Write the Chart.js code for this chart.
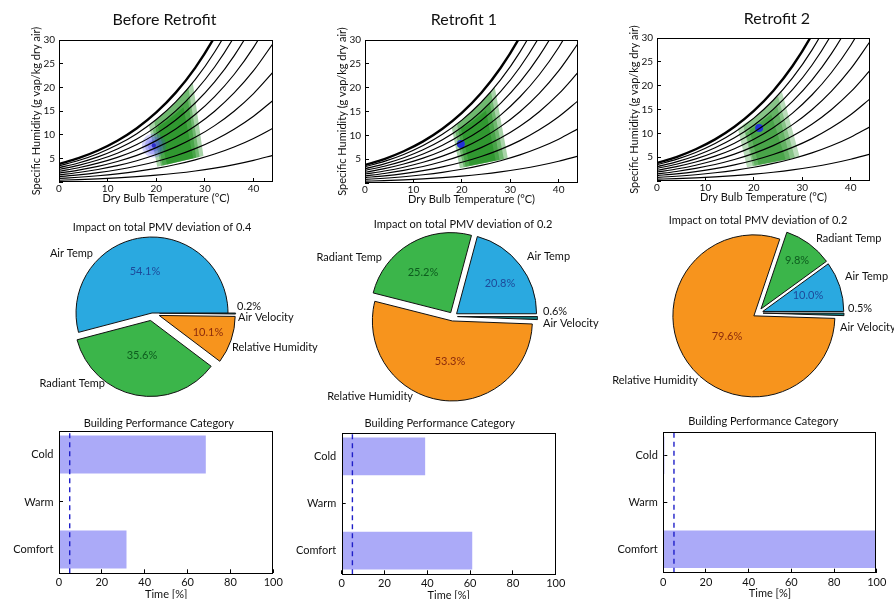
<!DOCTYPE html>
<html>
<head>
<meta charset="utf-8">
<title>Retrofit comfort comparison</title>
<script src="https://cdn.jsdelivr.net/npm/chart.js@4.4.1/dist/chart.umd.min.js"></script>
<style>
  html, body { margin: 0; padding: 0; background: #fff; }
  body { width: 894px; height: 599px; position: relative; overflow: hidden; }
  canvas { position: absolute; }
</style>
</head>
<body>
<canvas id="psy0"></canvas><canvas id="psy1"></canvas><canvas id="psy2"></canvas>
<canvas id="pie0"></canvas><canvas id="pie1"></canvas><canvas id="pie2"></canvas>
<canvas id="bar0"></canvas><canvas id="bar1"></canvas><canvas id="bar2"></canvas>
<script>
const FONT = 'Lato, "Open Sans", sans-serif';
Chart.defaults.font.family = FONT;
Chart.defaults.color = '#111';

// ---------- psychrometric chart ----------
const dryBulb = [0, 4, 8, 12, 16, 20, 24, 28, 32, 36, 40, 44];
// specific humidity (g vap / kg dry air) along each relative-humidity line
const rh10  = [0.38, 0.50, 0.66, 0.86, 1.12, 1.44, 1.84, 2.33, 2.94, 3.67, 4.57, 5.64];
const rh20  = [0.75, 1.00, 1.32, 1.73, 2.24, 2.89, 3.69, 4.68, 5.90, 7.39, 9.20, 11.38];
const rh30  = [1.13, 1.50, 1.98, 2.59, 3.37, 4.34, 5.55, 7.05, 8.89, 11.15, 13.90, 17.23];
const rh40  = [1.50, 2.00, 2.65, 3.46, 4.50, 5.80, 7.42, 9.43, 11.91, 14.96, 18.68, 23.19];
const rh50  = [1.88, 2.51, 3.31, 4.34, 5.63, 7.26, 9.30, 11.83, 14.96, 18.81, 23.52, 29.26];
const rh60  = [2.26, 3.01, 3.98, 5.21, 6.77, 8.74, 11.19, 14.25, 18.04, 22.71, 28.44, 35.45];
const rh70  = [2.64, 3.52, 4.64, 6.09, 7.91, 10.22, 13.10, 16.69, 21.15, 26.66, 33.44, 41.75];
const rh80  = [3.02, 4.02, 5.31, 6.97, 9.06, 11.70, 15.02, 19.15, 24.29, 30.66, 38.51, 48.18];
const rh90  = [3.40, 4.53, 5.98, 7.85, 10.21, 13.20, 16.94, 21.63, 27.46, 34.70, 43.67, 54.73];
const rh100 = [3.78, 5.03, 6.66, 8.73, 11.37, 14.70, 18.88, 24.12, 30.66, 38.80, 48.90, 61.42];
const rhLines = [rh10, rh20, rh30, rh40, rh50, rh60, rh70, rh80, rh90, rh100];

// comfort-zone outlines, vertices as [dry bulb °C, specific humidity g/kg]
const zonesBefore = [
  [[20.2, 3.2], [18.5, 12.0], [20, 13.2], [22, 14.9], [24, 16.9], [26, 19.2], [27.5, 21.0], [29.7, 5.5]],
  [[21.3, 3.5], [19.6, 12.8], [22, 14.9], [24, 16.9], [26, 19.2], [26.6, 19.9], [28.9, 5.3]],
  [[22.2, 3.7], [20.3, 11.9], [22, 13.3], [24, 15.0], [26, 17.0], [26.5, 17.6], [28.2, 5.1]],
  [[21.0, 3.4], [19.3, 11.0], [22, 12.8], [24, 14.4], [25.6, 15.8], [27.6, 5.0]]
];
const zonesRetrofit1 = [
  [[19.6, 3.1], [17.9, 11.7], [20, 13.2], [22, 14.9], [24, 16.9], [26, 19.2], [26.8, 20.1], [29.5, 5.2]],
  [[20.8, 3.4], [19.0, 12.4], [22, 14.9], [24, 16.9], [26, 19.2], [28.7, 5.0]],
  [[21.6, 3.6], [19.8, 11.5], [22, 13.3], [24, 15.0], [25.8, 16.8], [27.8, 4.8]],
  [[20.4, 3.3], [18.7, 10.6], [22, 12.8], [24, 14.4], [25.0, 15.2], [27.0, 4.7]]
];
const zonesRetrofit2 = [
  [[18.6, 2.9], [16.7, 11.0], [18, 12.0], [20, 13.2], [22, 14.9], [24, 16.9], [25.8, 18.7], [29.5, 5.0]],
  [[19.8, 3.1], [17.8, 11.7], [20, 13.2], [22, 14.9], [24, 16.9], [25.0, 17.8], [28.5, 4.8]],
  [[21.0, 3.4], [19.0, 11.0], [22, 13.3], [24, 15.0], [24.8, 15.8], [27.5, 4.6]],
  [[20.2, 3.2], [18.3, 10.0], [22, 12.8], [23.6, 14.0], [26.6, 4.5]]
];

// indoor operating point of each case [°C, g/kg]
const stateBefore = [19.5, 7.7];
const stateRetrofit1 = [19.8, 8.2];
const stateRetrofit2 = [21.1, 11.1];

// ---------- PMV deviation breakdown ----------
const factors = ['Air Temp', 'Radiant Temp', 'Relative Humidity', 'Air Velocity'];
const shareBefore = [54.1, 35.6, 10.1, 0.2];
const shareRetrofit1 = [20.8, 25.2, 53.3, 0.6];
const shareRetrofit2 = [10.0, 9.8, 79.6, 0.5];
const pmvDeviation = [0.4, 0.2, 0.2];

// ---------- building performance ----------
const categories = ['Cold', 'Warm', 'Comfort'];
const timeBefore = [68.5, 0, 31.5];
const timeRetrofit1 = [39, 0, 61];
const timeRetrofit2 = [0.5, 0, 99.5];
const timeLimit = 5;

const caseTitles = ['Before Retrofit', 'Retrofit 1', 'Retrofit 2'];

// ---------- styling ----------
const factorColors = ['#2aa9e0', '#3bb54a', '#f7941d', '#167d7f'];
const pctColors = ['#1d4a9a', '#0d5c1e', '#8c2c0c', '#111'];
const TICK_IN = -4; // tick marks point into the plot

// ---------- helpers ----------
function place(id, box) {
  const c = document.getElementById(id);
  c.width = box.w; c.height = box.h;
  c.style.left = box.x + 'px'; c.style.top = box.y + 'px';
  return c;
}

function textPlugin(items, aroundPie) {
  return {
    id: 'texts',
    afterDraw(chart) {
      const ctx = chart.ctx;
      let ox = 0, oy = 0;
      if (aroundPie) { const a = chart.getDatasetMeta(0).data[0]; ox = a.x; oy = a.y; }
      ctx.save();
      ctx.textBaseline = 'middle';
      items.forEach(t => {
        ctx.font = t.size + 'px ' + FONT;
        ctx.fillStyle = t.color || '#111';
        ctx.textAlign = t.align || 'center';
        ctx.fillText(t.text, ox + t.x, oy + t.y);
      });
      ctx.restore();
    }
  };
}

const framePlugin = {
  id: 'frame',
  afterDatasetsDraw(chart) {
    const { ctx, chartArea: a } = chart;
    ctx.save();
    ctx.strokeStyle = '#000';
    ctx.lineWidth = 1;
    ctx.strokeRect(Math.round(a.left) + 0.5, Math.round(a.top) + 0.5,
                   Math.round(a.right - a.left) - 1, Math.round(a.bottom - a.top) - 1);
    ctx.restore();
  }
};

const inwardGrid = { display: true, drawOnChartArea: false, drawTicks: true, tickLength: TICK_IN, color: '#000', lineWidth: 1 };

function psychChart(id, box, area, title, titleAt, zones, zoneAlpha, marks) {
  const c = place(id, box);
  const yW = area.l - box.x;
  const xH = box.y + box.h - area.b;
  const curves = rhLines.map((arr, k) => ({
    type: 'line', order: 0,
    data: dryBulb.map((t, i) => ({ x: t, y: arr[i] })),
    borderColor: '#000',
    borderWidth: k === rhLines.length - 1 ? 2.4 : 1.15,
    pointRadius: 0, cubicInterpolationMode: 'monotone', fill: false
  }));
  const zoneSets = zones.map(z => ({
    type: 'line', order: 2,
    data: z.map(p => ({ x: p[0], y: p[1] })),
    borderColor: 'rgba(0,0,0,0)', borderWidth: 0, pointRadius: 0, tension: 0,
    fill: 'shape', backgroundColor: 'rgba(0,130,0,' + zoneAlpha + ')'
  }));
  const markSets = marks.map(m => ({
    type: 'scatter', order: 1,
    data: [{ x: m.at[0], y: m.at[1] }],
    pointRadius: m.r, backgroundColor: m.color, borderWidth: 0
  }));
  new Chart(c, {
    type: 'scatter',
    data: { datasets: curves.concat(markSets, zoneSets) },
    options: {
      responsive: false, animation: false, events: [],
      layout: { padding: { left: 0, top: area.t - box.y, right: box.x + box.w - area.r, bottom: 0 } },
      plugins: { legend: { display: false }, tooltip: { enabled: false } },
      scales: {
        x: {
          type: 'linear', offset: false, min: 0, max: 44,
          ticks: { stepSize: 10, includeBounds: false, font: { size: 10 }, color: '#111', padding: 1 - TICK_IN, maxRotation: 0 },
          grid: inwardGrid, border: { display: false },
          title: { display: true, text: 'Dry Bulb Temperature (°C)', font: { size: 11 }, color: '#111',
                   padding: { top: 0, bottom: xH - 16.5 - 6.6 } },
          afterFit(s) { s.height = xH; }
        },
        y: {
          type: 'linear', offset: false, min: 0, max: 30,
          ticks: { stepSize: 5, font: { size: 10 }, color: '#111', padding: 4 - TICK_IN,
                   callback: v => (v === 0 ? '' : v) },
          grid: inwardGrid, border: { display: false },
          title: { display: true, text: 'Specific Humidity (g vap/kg dry air)', font: { size: 11 }, color: '#111',
                   padding: { top: yW - 23 - 6.6, bottom: 0 } },
          afterFit(s) { s.width = yW; }
        }
      }
    },
    plugins: [framePlugin, textPlugin([
      { text: title, x: titleAt[0] - box.x, y: titleAt[1] - box.y, size: 16 }
    ])]
  });
}

function pieChart(id, box, center, radius, shares, explode, spots, dev) {
  const c = place(id, box);
  const cx = center[0] - box.x, cy = center[1] - box.y;
  const dx = 2 * cx - box.w, dy = 2 * cy - box.h;
  // Chart.js sweeps clockwise; reversing the slices gives a counter-clockwise pie from three o'clock
  const idx = factors.map((_, i) => factors.length - 1 - i);
  const items = [{ text: 'Impact on total PMV deviation of ' + dev, x: spots.title[0], y: spots.title[1], size: 11 }];
  factors.forEach((f, i) => {
    const n = spots.names[i], p = spots.pcts[i];
    items.push({ text: f, x: n[0], y: n[1], align: n[2], size: 11 });
    items.push({ text: shares[i].toFixed(1) + '%', x: p[0], y: p[1], align: p[2] || 'center', size: 11, color: pctColors[i] });
  });
  const explodePlugin = {
    id: 'explode',
    beforeDatasetDraw(chart, args) {
      const ctx = chart.ctx;
      args.meta.data.forEach((arc, j) => {
        const d = explode[idx[j]];
        const mid = (arc.startAngle + arc.endAngle) / 2;
        ctx.save();
        ctx.translate(Math.cos(mid) * d, Math.sin(mid) * d);
        arc.draw(ctx);
        ctx.restore();
      });
      return false;
    }
  };
  new Chart(c, {
    type: 'pie',
    data: {
      labels: idx.map(i => factors[i]),
      datasets: [{
        data: idx.map(i => shares[i]),
        backgroundColor: idx.map(i => factorColors[i]),
        borderColor: '#111', borderWidth: 1
      }]
    },
    options: {
      responsive: false, animation: false, events: [],
      rotation: 90, radius: radius,
      layout: { padding: { left: Math.max(dx, 0), right: Math.max(-dx, 0), top: Math.max(dy, 0), bottom: Math.max(-dy, 0) } },
      plugins: { legend: { display: false }, tooltip: { enabled: false } }
    },
    plugins: [explodePlugin, textPlugin(items, true)]
  });
}

function barChart(id, box, area, titleAt, values) {
  const c = place(id, box);
  const yW = area.l - box.x;
  const xH = box.y + box.h - area.b;
  new Chart(c, {
    type: 'bar',
    data: {
      labels: categories,
      datasets: [
        { type: 'line', xAxisID: 'x', yAxisID: 'yv', order: 0,
          data: [{ x: timeLimit, y: 0 }, { x: timeLimit, y: 1 }],
          borderColor: '#1f1fc8', borderWidth: 1.4, borderDash: [5, 4], pointRadius: 0, fill: false },
        { type: 'bar', indexAxis: 'y', xAxisID: 'x', yAxisID: 'y', order: 1,
          data: values, backgroundColor: '#abaaf8', borderWidth: 0,
          barPercentage: 0.8, categoryPercentage: 1 }
      ]
    },
    options: {
      responsive: false, animation: false, events: [],
      layout: { padding: { left: 0, top: area.t - box.y, right: box.x + box.w - area.r, bottom: 0 } },
      plugins: { legend: { display: false }, tooltip: { enabled: false } },
      scales: {
        x: {
          type: 'linear', position: 'bottom', offset: false, min: 0, max: 100,
          ticks: { stepSize: 20, font: { size: 11 }, color: '#111', padding: 2.8 - TICK_IN, maxRotation: 0 },
          grid: Object.assign({}, inwardGrid, { offset: false }), border: { display: false },
          title: { display: true, text: 'Time [%]', font: { size: 11 }, color: '#111',
                   padding: { top: 0, bottom: xH - 20.7 - 6.6 } },
          afterFit(s) { s.height = xH; }
        },
        y: {
          type: 'category', position: 'left', offset: true,
          ticks: { font: { size: 11 }, color: '#111', padding: 5.5 - TICK_IN },
          grid: Object.assign({}, inwardGrid, { offset: false }), border: { display: false },
          afterFit(s) { s.width = yW; }
        },
        yv: { type: 'linear', min: 0, max: 1, offset: false, display: false }
      }
    },
    plugins: [framePlugin, textPlugin([
      { text: 'Building Performance Category', x: titleAt[0] - box.x, y: titleAt[1] - box.y, size: 11 }
    ])]
  });
}

// ---------- row 1: psychrometric charts ----------
psychChart('psy0', { x: 0, y: 0, w: 300, h: 208 }, { l: 59, t: 40, r: 273, b: 182 },
  caseTitles[0], [164.5, 20], zonesBefore, 0.34, [
    { at: stateBefore, r: 12, color: 'rgba(60,60,235,0.22)' },
    { at: stateBefore, r: 9, color: 'rgba(60,60,235,0.25)' },
    { at: stateBefore, r: 6, color: 'rgba(60,60,235,0.3)' },
    { at: stateBefore, r: 2.2, color: '#1a1a9a' }
  ]);
psychChart('psy1', { x: 300, y: 0, w: 300, h: 208 }, { l: 365, t: 40, r: 578, b: 183 },
  caseTitles[1], [464, 20], zonesRetrofit1, 0.34, [
    { at: stateRetrofit1, r: 4, color: '#2230d8' }
  ]);
psychChart('psy2', { x: 594, y: 0, w: 300, h: 208 }, { l: 657, t: 38, r: 870, b: 181 },
  caseTitles[2], [777, 19], zonesRetrofit2, 0.27, [
    { at: stateRetrofit2, r: 4, color: '#2230d8' }
  ]);

// ---------- row 2: pie charts ----------
pieChart('pie0', { x: 0, y: 205, w: 340, h: 200 }, [152, 313], 76, shareBefore, [0, 7.6, 7.6, 7.6], {
  title: [10, -86],
  names: [[-59, -60, 'right'], [-47, 70, 'right'], [80, 34, 'left'], [86, 4, 'left']],
  pcts: [[-7, -42], [-10, 42], [56, 19], [85, -7, 'left']]
}, pmvDeviation[0]);
pieChart('pie1', { x: 290, y: 205, w: 320, h: 200 }, [453, 316.5], 80, shareRetrofit1, [4.5, 4.5, 4.5, 4.5], {
  title: [10, -92.5],
  names: [[74, -60.5, 'left'], [-71, -59.5, 'right'], [-40, 79.5, 'right'], [90, 6.5, 'left']],
  pcts: [[47, -33.5], [-30, -44], [-3, 45], [90, -5, 'left']]
}, pmvDeviation[1]);
pieChart('pie2', { x: 594, y: 205, w: 300, h: 200 }, [758, 313], 81, shareRetrofit2, [5, 5, 5, 5], {
  title: [0, -93],
  names: [[87, -37, 'left'], [58, -75, 'left'], [-60, 67, 'right'], [82, 14, 'left']],
  pcts: [[50, -18], [39, -53], [-31, 23], [90, -5, 'left']]
}, pmvDeviation[2]);

// ---------- row 3: performance category bars ----------
barChart('bar0', { x: 0, y: 400, w: 300, h: 205 }, { l: 59, t: 430.7, r: 273.3, b: 573.3 }, [158.8, 423.3], timeBefore);
barChart('bar1', { x: 280, y: 400, w: 320, h: 205 }, { l: 341.7, t: 432.7, r: 555.7, b: 574.3 }, [439.7, 423.3], timeRetrofit1);
barChart('bar2', { x: 594, y: 400, w: 300, h: 205 }, { l: 663.3, t: 431.7, r: 876.7, b: 572.7 }, [763.3, 421.7], timeRetrofit2);
</script>
</body>
</html>
